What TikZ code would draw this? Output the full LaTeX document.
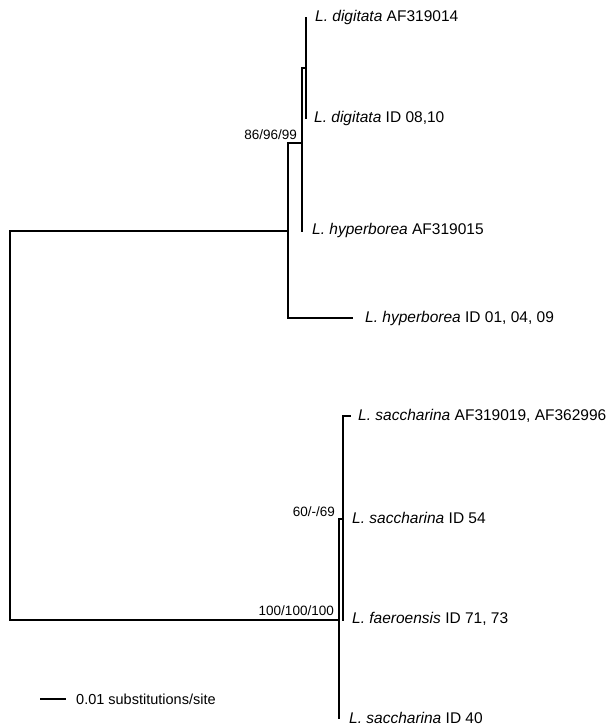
\documentclass[tikz,border=0pt]{standalone}
\usepackage{fontspec}
\setmainfont{Liberation Sans}
\begin{document}
\begin{tikzpicture}[x=1pt,y=-1pt,
  br/.style={line width=1.6pt, line cap=rect},
  leaf/.style={anchor=west, inner sep=0pt, font=\fontsize{15.5}{18}\selectfont},
  boot/.style={anchor=south east, inner sep=0pt, font=\fontsize{13.5}{16}\selectfont}]
\useasboundingbox (0,0) rectangle (614,726);
% internal coordinates
\coordinate (rT) at (10,231);
\coordinate (rB) at (10,620);
\coordinate (A) at (288,231);
\coordinate (A1) at (288,143);
\coordinate (A2) at (288,318);
\coordinate (B) at (302,143);
\coordinate (B1) at (302,68);
\coordinate (C) at (306,68);
\coordinate (lDA) at (306,18);
\coordinate (lDI) at (306,118);
\coordinate (lHA) at (302,231);
\coordinate (lHI) at (352,318);
\coordinate (D) at (339,620);
\coordinate (D1) at (339,519);
\coordinate (lS40) at (339,718);
\coordinate (E) at (343,519);
\coordinate (E1) at (343,416);
\coordinate (lF) at (343,620);
\coordinate (lSA) at (350,416);
\coordinate (sbL) at (40,699);
\coordinate (sbR) at (66,699);
% branches
\draw[br] (rT) -- (rB);
\draw[br] (rT) -- (A);
\draw[br] (rB) -- (D);
\draw[br] (A1) -- (A2);
\draw[br] (A1) -- (B);
\draw[br] (A2) -- (lHI);
\draw[br] (B1) -- (lHA);
\draw[br] (B1) -- (C);
\draw[br] (lDA) -- (lDI);
\draw[br] (D1) -- (lS40);
\draw[br] (D1) -- (E);
\draw[br] (E1) -- (lF);
\draw[br] (E1) -- (lSA);
\draw[line width=1.3pt] (sbL) -- (sbR);
% labels
\node[leaf] (tDA) at (315,17) {\textit{L. digitata} AF319014};
\node[leaf] (tDI) at (314,118) {\textit{L. digitata} ID 08,10};
\node[leaf] (tHA) at (312,230) {\textit{L. hyperborea} AF319015};
\node[leaf] (tHI) at (365,318) {\textit{L. hyperborea} ID 01, 04, 09};
\node[leaf] (tSA) at (358,416) {\textit{L. saccharina} AF319019, AF362996};
\node[leaf] (tS54) at (352,518) {\textit{L. saccharina} ID 54};
\node[leaf] (tF) at (352,619) {\textit{L. faeroensis} ID 71, 73};
\node[leaf] (tS40) at (349,718) {\textit{L. saccharina} ID 40};
\node[boot] (b1) at (297,140) {86/96/99};
\node[boot] (b2) at (335,517) {60/-/69};
\node[boot] (b3) at (334,616) {100/100/100};
\node[leaf, font=\fontsize{14.5}{17}\selectfont] (sb) at (76,699) {0.01 substitutions/site};
\end{tikzpicture}
\end{document}
